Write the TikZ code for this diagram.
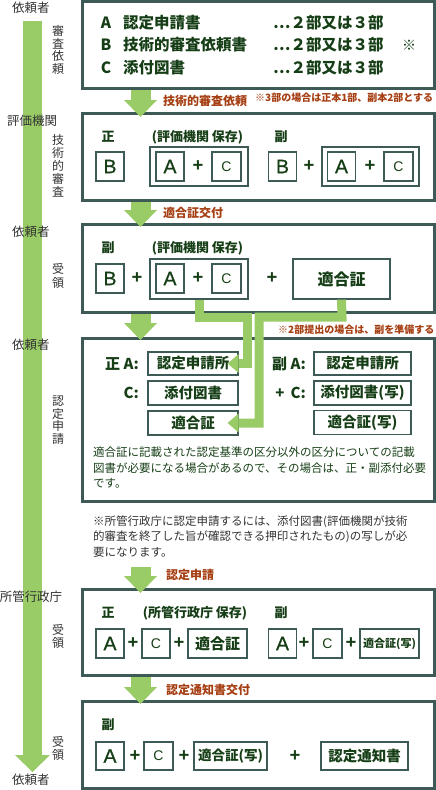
\documentclass[tikz,border=0pt]{standalone}
\usepackage{fontspec}
\setmainfont{Noto Sans CJK JP}
\newfontfamily\latf{Liberation Sans}
\newfontfamily\latm[FakeBold=0.8]{Liberation Sans}
\usetikzlibrary{arrows.meta}
\definecolor{grn}{RGB}{153,204,102}
\definecolor{bdr}{RGB}{62,90,86}
\definecolor{tgr}{RGB}{22,62,22}
\definecolor{rdb}{RGB}{165,62,18}
\definecolor{lbg}{RGB}{50,50,50}
\newcommand{\fsz}[1]{\fontsize{#1}{#1}\selectfont}
\begin{document}
\begin{tikzpicture}[x=1pt,y=-1pt,
 mainbox/.style={draw=bdr,line width=3pt,minimum width=352pt,inner sep=0pt},
 sb/.style={draw=bdr,line width=1.2pt,inner sep=0pt,text=tgr},
 lb/.style={sb,minimum width=28pt,minimum height=29pt,font=\latm\fsz{19.5}},
 cb/.style={sb,minimum width=29pt,minimum height=29pt,font=\latf\fsz{14}},
 lbl/.style={text=lbg,font=\fsz{12.5},inner sep=0pt},
 vl/.style={text=lbg,font=\fontsize{12}{12.6}\selectfont,align=center,inner sep=0pt},
 al/.style={text=rdb,font=\fsz{12}\bfseries,anchor=west,inner sep=0pt},
 nt/.style={text=rdb,font=\fsz{10}\bfseries,anchor=west,inner sep=0pt},
 tx/.style={text=tgr,font=\fsz{13}\bfseries,inner sep=0pt},
 pl/.style={text=tgr,font=\latf\bfseries\fsz{18.5},inner sep=0pt},
 para/.style={font=\fontsize{11.5}{15.6}\selectfont,align=left,anchor=west,inner sep=0pt},
 flow/.style={draw=grn,line width=20pt,-{Triangle[width=33pt,length=17pt,line width=0pt]}},
 link/.style={draw=grn,line width=9pt,-{Triangle[width=19pt,length=11pt,line width=0pt]}},
]
\useasboundingbox (0,0) rectangle (436,790);
% left timeline
\coordinate (bartop) at (32.5,21);
\coordinate (barend) at (32.5,772);
\draw[draw=grn,line width=19pt,-{Triangle[width=35pt,length=17pt,line width=0pt]}] (bartop) -- (barend);
\node[lbl] (u1) at (31,8) {依頼者};
\node[lbl] (ev) at (32,121) {評価機関};
\node[lbl] (u2) at (31,232) {依頼者};
\node[lbl] (u3) at (31,345) {依頼者};
\node[lbl] (gov) at (31,597) {所管行政庁};
\node[lbl] (u4) at (31,780) {依頼者};
\node[vl] (v1) at (58,50) {審\\査\\依\\頼};
\node[vl,font=\fontsize{12}{13}\selectfont] (v2) at (58,166) {技\\術\\的\\審\\査};
\node[vl,font=\fontsize{12}{13.5}\selectfont] (v3) at (58,276) {受\\領};
\node[vl] (v4) at (58,420) {認\\定\\申\\請};
\node[vl] (v5) at (58,636.5) {受\\領};
\node[vl] (v6) at (58,748.5) {受\\領};

% main boxes
\node[mainbox,minimum height=87pt] (b1) at (258,45) {};
\node[mainbox,minimum height=87pt] (b2) at (258,157) {};
\node[mainbox,minimum height=87.5pt] (b3) at (258,268.25) {};
\node[mainbox,minimum height=163pt] (b4) at (258,419.5) {};
\node[mainbox,minimum height=86pt] (b5) at (258,632.5) {};
\node[mainbox,minimum height=86.5pt] (b6) at (258,744.75) {};

% box 1
\node[tx,font=\fsz{15.5}\bfseries] (k1a) at (106,23) {A};
\node[tx,font=\fsz{15.5}\bfseries] (k1b) at (106,45) {B};
\node[tx,font=\fsz{15.5}\bfseries] (k1c) at (106,68) {C};
\node[tx,font=\fsz{15.5}\bfseries,anchor=west] (t1a) at (123,23) {認定申請書};
\node[tx,font=\fsz{15.5}\bfseries,anchor=west] (t1b) at (123,45) {技術的審査依頼書};
\node[tx,font=\fsz{15.5}\bfseries,anchor=west] (t1c) at (123,68) {添付図書};
\node[tx,font=\fsz{15.5}\bfseries,anchor=west] (n1a) at (273,23) {…２部又は３部};
\node[tx,font=\fsz{15.5}\bfseries,anchor=west] (n1b) at (273,45) {…２部又は３部};
\node[tx,font=\fsz{15.5}\bfseries,anchor=west] (n1c) at (273,68) {…２部又は３部};
\node[tx,font=\fsz{14}] (mk1) at (409,45) {※};

% box 2
\node[tx] (z2) at (108,137) {正};
\node[tx] (h2) at (197.5,137) {(評価機関 保存)};
\node[tx] (f2) at (281,137) {副};
\node[lb] (B2a) at (110,166.5) {B};
\node[sb,minimum width=98pt,minimum height=39pt] (g2a) at (199,166.5) {};
\node[lb] (A2a) at (170,166.5) {A};
\node[pl] (p2a) at (198,166.5) {+};
\node[cb] (C2a) at (226.5,166.5) {C};
\node[lb] (B2b) at (282.5,166.5) {B};
\node[pl] (p2b) at (309,166.5) {+};
\node[sb,minimum width=97pt,minimum height=39pt] (g2b) at (370.5,166.5) {};
\node[lb] (A2b) at (341.5,166.5) {A};
\node[pl] (p2c) at (370,166.5) {+};
\node[cb] (C2b) at (398.5,166.5) {C};

% box 3
\node[tx] (f3) at (108,248) {副};
\node[tx] (h3) at (197.5,248) {(評価機関 保存)};
\node[lb] (B3) at (110,278.5) {B};
\node[pl] (p3a) at (137,278.5) {+};
\node[sb,minimum width=98pt,minimum height=40pt] (g3) at (199,279) {};
\node[lb] (A3) at (170,278.5) {A};
\node[pl] (p3b) at (198,278.5) {+};
\node[cb] (C3) at (226.5,278.5) {C};
\node[pl] (p3c) at (272,278.5) {+};
\node[sb,minimum width=97pt,minimum height=40pt,font=\fsz{16}\bfseries] (cert3) at (341.5,279) {適合証};

% box 4
\node[tx,font=\fsz{15}\bfseries,anchor=east] (l4a) at (139,363.5) {正 A:};
\node[tx,font=\fsz{15}\bfseries,anchor=east] (l4c) at (139,393) {C:};
\node[tx,font=\fsz{15}\bfseries,anchor=east] (r4la) at (306,363.5) {副 A:};
\node[tx,font=\fsz{15}\bfseries,anchor=east] (r4lc) at (306,393) {+\hspace{6pt}C:};
\node[sb,minimum width=90pt,minimum height=23pt,font=\fsz{14.5}\bfseries] (L4a) at (193,363.5) {認定申請所};
\node[sb,minimum width=90pt,minimum height=24pt,font=\fsz{14.5}\bfseries] (L4c) at (193,393) {添付図書};
\node[sb,minimum width=90pt,minimum height=24pt,font=\fsz{14.5}\bfseries] (L4t) at (193,423) {適合証};
\node[sb,minimum width=97pt,minimum height=23pt,font=\fsz{14.5}\bfseries] (R4a) at (362.5,363.5) {認定申請所};
\node[sb,minimum width=97pt,minimum height=24pt,font=\fsz{14.5}\bfseries] (R4c) at (362.5,393) {添付図書(写)};
\node[sb,minimum width=97pt,minimum height=24pt,font=\fsz{14.5}\bfseries] (R4t) at (362.5,422.5) {適合証(写)};
\node[nt] (note2) at (278,330) {※2部提出の場合は、副を準備する};
\node[para,text=tgr] (par4) at (93,467.5) {適合証に記載された認定基準の区分以外の区分についての記載\\図書が必要になる場合があるので、その場合は、正・副添付必要\\です。};
\node[para,text=lbg] (par5) at (93,536.5) {※所管行政庁に認定申請するには、添付図書(評価機関が技術\\的審査を終了した旨が確認できる押印されたもの)の写しが必\\要になります。};

% box 5
\node[tx] (z5) at (108,613) {正};
\node[tx] (h5) at (195,613) {(所管行政庁 保存)};
\node[tx] (f5) at (281,613) {副};
\node[lb] (A5a) at (110,643.5) {A};
\node[pl] (p5a) at (133,643.5) {+};
\node[cb,minimum width=28pt] (C5a) at (156,643.5) {C};
\node[pl] (p5b) at (179,643.5) {+};
\node[sb,minimum width=59pt,minimum height=29pt,font=\fsz{15}\bfseries] (T5a) at (217.5,643.5) {適合証};
\node[lb] (A5b) at (282.5,643.5) {A};
\node[pl] (p5c) at (304,643.5) {+};
\node[cb] (C5b) at (327.5,643.5) {C};
\node[pl] (p5d) at (351,643.5) {+};
\node[sb,minimum width=59pt,minimum height=29pt,font=\fsz{11}\bfseries] (T5b) at (389.5,643.5) {適合証(写)};

% box 6
\node[tx] (f6) at (108,725) {副};
\node[lb,minimum height=28pt] (A6) at (110,756) {A};
\node[pl] (p6a) at (135,756) {+};
\node[cb,minimum height=28pt] (C6) at (158.5,756) {C};
\node[pl] (p6b) at (184,756) {+};
\node[sb,minimum width=73pt,minimum height=28pt,font=\fsz{13.5}\bfseries] (T6) at (230.5,756) {適合証(写)};
\node[pl] (p6c) at (295,756) {+};
\node[sb,minimum width=87pt,minimum height=28pt,font=\fsz{14.5}\bfseries] (N6) at (364.5,756) {認定通知書};

% flow arrows
\coordinate (ax) at (140.5,0);
\coordinate (f4) at (140.5,567);
\draw[flow,shorten >=-5pt] (b1.south -| ax) -- (b2.north -| ax);
\draw[flow,shorten >=-4pt] (b2.south -| ax) -- (b3.north -| ax);
\draw[flow,shorten >=-3.5pt] (b3.south -| ax) -- (b4.north -| ax);
\draw[flow,shorten >=-5pt] (f4) -- (b5.north -| ax);
\draw[flow,shorten >=-4pt] (b5.south -| ax) -- (b6.north -| ax);
\node[al] (lab1) at (163,100.5) {技術的審査依頼};
\node[nt] (note1) at (255,98) {※3部の場合は正本1部、副本2部とする};
\node[al] (lab2) at (163,213) {適合証交付};
\node[al] (lab4) at (166,575) {認定申請};
\node[al] (lab5) at (166,690) {認定通知書交付};

% green links
\draw[link,shorten >=-11pt] (g3.south) -- (199,317) -- (247,317) -- (247,363.5) -- (L4a.east);
\draw[link,shorten >=-11pt] (cert3.south) -- (342,317) -- (259,317) -- (259,423) -- (L4t.east);
\end{tikzpicture}
\end{document}
